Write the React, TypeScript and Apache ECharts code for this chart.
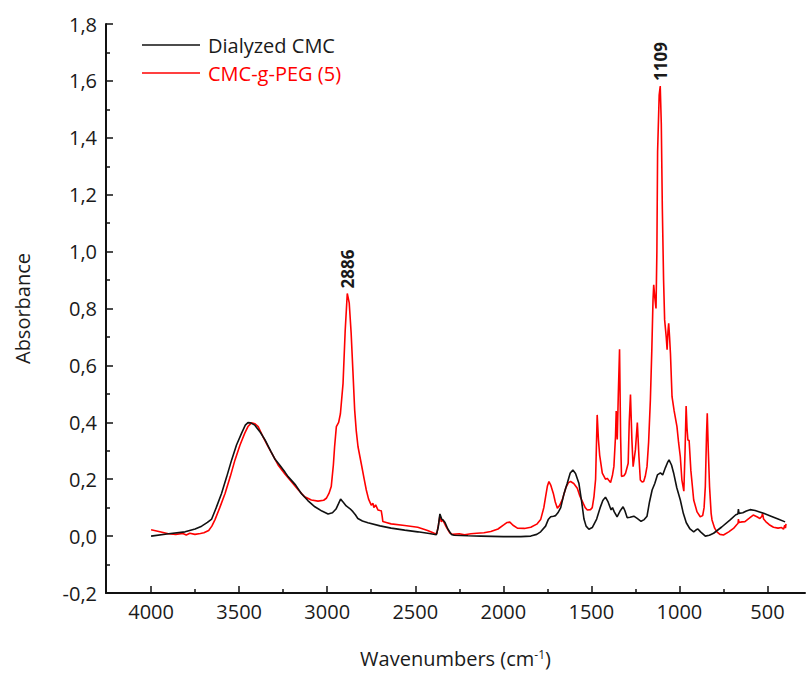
import React, { useEffect, useRef } from "react";
import * as echarts from "echarts";

// Dialyzed CMC spectrum [wavenumber, absorbance]
const dialyzedCMC: [number, number][] = [
  [4000, 0.0], [3900, 0.008], [3807, 0.015], [3750, 0.025], [3713, 0.035], [3680, 0.048],
  [3656, 0.06], [3630, 0.1], [3600, 0.15], [3570, 0.21], [3543, 0.267], [3515, 0.32],
  [3486, 0.362], [3465, 0.39], [3450, 0.399], [3435, 0.398], [3411, 0.39], [3380, 0.365],
  [3353, 0.338], [3320, 0.298], [3296, 0.27], [3270, 0.25], [3240, 0.225], [3222, 0.209],
  [3180, 0.18], [3147, 0.15], [3110, 0.125], [3070, 0.103], [3030, 0.088], [2995, 0.078],
  [2970, 0.082], [2950, 0.095], [2935, 0.115], [2924, 0.13], [2910, 0.12], [2892, 0.106],
  [2870, 0.096], [2854, 0.086], [2840, 0.075], [2826, 0.062], [2800, 0.053], [2769, 0.047],
  [2700, 0.036], [2637, 0.028], [2560, 0.021], [2486, 0.015], [2420, 0.009], [2380, 0.005],
  [2370, 0.03], [2360, 0.078], [2350, 0.06], [2340, 0.055], [2331, 0.048], [2315, 0.025],
  [2295, 0.006], [2279, 0.003], [2200, 0.001], [2127, 0.0], [2000, -0.002], [1900, -0.002],
  [1844, 0.0], [1810, 0.006], [1788, 0.015], [1760, 0.035], [1745, 0.058], [1731, 0.068],
  [1715, 0.07], [1703, 0.072], [1690, 0.082], [1674, 0.1], [1655, 0.15], [1637, 0.186],
  [1620, 0.222], [1605, 0.232], [1590, 0.22], [1571, 0.186], [1555, 0.12], [1542, 0.06],
  [1530, 0.035], [1514, 0.024], [1495, 0.03], [1470, 0.06], [1450, 0.1], [1435, 0.125],
  [1420, 0.137], [1405, 0.12], [1388, 0.092], [1380, 0.1], [1370, 0.085], [1354, 0.068],
  [1335, 0.09], [1320, 0.103], [1310, 0.09], [1297, 0.065], [1280, 0.066], [1259, 0.07],
  [1240, 0.062], [1218, 0.052], [1200, 0.058], [1184, 0.07], [1170, 0.12], [1155, 0.162],
  [1140, 0.185], [1125, 0.215], [1108, 0.222], [1095, 0.215], [1080, 0.24], [1068, 0.258],
  [1059, 0.268], [1045, 0.25], [1033, 0.222], [1015, 0.17], [995, 0.127], [978, 0.08],
  [961, 0.047], [940, 0.025], [919, 0.015], [905, 0.022], [895, 0.025], [880, 0.015],
  [853, 0.0], [830, 0.003], [806, 0.01], [760, 0.032], [712, 0.057], [680, 0.075],
  [668, 0.078], [665, 0.095], [662, 0.08], [640, 0.082], [620, 0.088], [599, 0.093],
  [570, 0.09], [545, 0.085], [522, 0.08], [480, 0.07], [440, 0.06], [400, 0.05],
];

// CMC-g-PEG (5) spectrum [wavenumber, absorbance]
const cmcGPeg: [number, number][] = [
  [4000, 0.022], [3950, 0.015], [3902, 0.008], [3860, 0.006], [3820, 0.009], [3800, 0.004],
  [3780, 0.01], [3751, 0.006], [3720, 0.009], [3700, 0.012], [3673, 0.02], [3655, 0.035],
  [3637, 0.058], [3610, 0.1], [3580, 0.15], [3550, 0.21], [3524, 0.267], [3495, 0.32],
  [3468, 0.362], [3450, 0.385], [3430, 0.398], [3410, 0.395], [3392, 0.385], [3365, 0.35],
  [3335, 0.314], [3305, 0.28], [3279, 0.25], [3240, 0.218], [3203, 0.191], [3165, 0.163],
  [3128, 0.138], [3090, 0.127], [3052, 0.123], [3020, 0.126], [3005, 0.133], [2990, 0.15],
  [2977, 0.174], [2965, 0.25], [2958, 0.314], [2948, 0.385], [2935, 0.4], [2925, 0.43],
  [2910, 0.537], [2898, 0.72], [2886, 0.853], [2875, 0.82], [2864, 0.713], [2854, 0.58],
  [2844, 0.443], [2835, 0.37], [2825, 0.314], [2807, 0.256], [2790, 0.2], [2778, 0.162],
  [2765, 0.13], [2750, 0.109], [2740, 0.115], [2735, 0.1], [2725, 0.11], [2712, 0.092],
  [2700, 0.09], [2693, 0.089], [2688, 0.07], [2684, 0.051], [2660, 0.047], [2637, 0.043],
  [2560, 0.037], [2486, 0.031], [2430, 0.02], [2392, 0.01], [2378, 0.008], [2368, 0.04],
  [2360, 0.072], [2352, 0.05], [2345, 0.058], [2338, 0.05], [2325, 0.033], [2305, 0.012],
  [2288, 0.006], [2250, 0.008], [2220, 0.005], [2184, 0.008], [2150, 0.01], [2110, 0.012],
  [2071, 0.016], [2030, 0.025], [1996, 0.04], [1978, 0.048], [1963, 0.049], [1945, 0.038],
  [1920, 0.028], [1880, 0.027], [1844, 0.031], [1810, 0.042], [1788, 0.058], [1770, 0.1],
  [1760, 0.138], [1750, 0.175], [1741, 0.192], [1730, 0.178], [1716, 0.15], [1705, 0.12],
  [1693, 0.098], [1680, 0.108], [1665, 0.128], [1645, 0.17], [1630, 0.188], [1618, 0.192],
  [1600, 0.185], [1580, 0.168], [1565, 0.14], [1550, 0.12], [1535, 0.1], [1523, 0.092],
  [1505, 0.093], [1495, 0.1], [1485, 0.14], [1476, 0.2], [1467, 0.426], [1460, 0.34],
  [1453, 0.285], [1438, 0.221], [1420, 0.2], [1410, 0.203], [1400, 0.195], [1391, 0.188],
  [1380, 0.215], [1372, 0.245], [1363, 0.35], [1359, 0.44], [1353, 0.34], [1347, 0.5],
  [1340, 0.657], [1334, 0.35], [1329, 0.21], [1315, 0.212], [1306, 0.221], [1291, 0.256],
  [1285, 0.4], [1278, 0.498], [1270, 0.34], [1263, 0.244], [1255, 0.28], [1250, 0.303],
  [1239, 0.399], [1230, 0.28], [1222, 0.197], [1212, 0.19], [1203, 0.192], [1194, 0.21],
  [1184, 0.245], [1175, 0.33], [1165, 0.478], [1157, 0.65], [1150, 0.83], [1146, 0.883],
  [1140, 0.84], [1133, 0.8], [1128, 1.0], [1124, 1.35], [1115, 1.55], [1109, 1.582],
  [1103, 1.45], [1097, 1.15], [1090, 0.9], [1084, 0.76], [1075, 0.7], [1070, 0.655],
  [1065, 0.72], [1061, 0.748], [1056, 0.7], [1051, 0.642], [1042, 0.49], [1030, 0.44],
  [1014, 0.385], [1005, 0.33], [995, 0.279], [986, 0.197], [975, 0.158], [968, 0.3],
  [962, 0.457], [957, 0.38], [952, 0.338], [945, 0.336], [935, 0.23], [919, 0.127],
  [900, 0.085], [882, 0.068], [868, 0.072], [860, 0.1], [853, 0.174], [846, 0.36],
  [842, 0.432], [836, 0.3], [829, 0.174], [820, 0.08], [815, 0.057], [800, 0.028],
  [787, 0.015], [770, 0.006], [750, 0.004], [720, 0.015], [693, 0.027], [675, 0.04],
  [667, 0.045], [665, 0.06], [662, 0.048], [645, 0.05], [628, 0.051], [605, 0.062],
  [581, 0.074], [560, 0.068], [543, 0.062], [532, 0.07], [528, 0.08], [522, 0.06],
  [510, 0.051], [490, 0.04], [466, 0.031], [440, 0.028], [420, 0.03], [409, 0.024],
  [402, 0.038], [398, 0.028], [395, 0.043],
];

const seriesNames = ["Dialyzed CMC", "CMC-g-PEG (5)"];
const xMajorTicks = [4000, 3500, 3000, 2500, 2000, 1500, 1000, 500];
const xMinorTicks = [3750, 3250, 2750, 2250, 1750, 1250, 750];
const peakLabels = [
  { wn: 2886, abs: 0.853, text: "2886" },
  { wn: 1109, abs: 1.582, text: "1109" },
];

const FONT = "'Open Sans', sans-serif";
const TXT = "#1a1a1a";

export default function App() {
  const ref = useRef<HTMLDivElement>(null);
  useEffect(() => {
    if (!ref.current) return;
    const chart = echarts.init(ref.current, undefined, { renderer: "svg" });
    chart.setOption({
      animation: false,
      backgroundColor: "#ffffff",
      textStyle: { fontFamily: FONT },
      grid: { left: 106, right: 1, top: 24, bottom: 80, outerBoundsMode: "none" },
      legend: {
        orient: "vertical",
        left: 137,
        top: 30,
        icon: "rect",
        itemWidth: 58,
        itemHeight: 1.6,
        itemGap: 8,
        textStyle: { fontFamily: FONT, fontSize: 20, padding: [0, 0, 0, 3] },
        data: [
          { name: seriesNames[0], textStyle: { color: TXT } },
          { name: seriesNames[1], textStyle: { color: "#ff0000" } },
        ],
      },
      xAxis: [
        {
          type: "value",
          inverse: true,
          min: 287,
          max: 4256,
          name: "Wavenumbers (cm{sup|-1})",
          nameLocation: "middle",
          nameGap: 55,
          nameTextStyle: {
            fontFamily: FONT,
            fontSize: 20,
            color: TXT,
            rich: {
              sup: { fontSize: 12, fontFamily: FONT, color: TXT, verticalAlign: "top", lineHeight: 14 },
            },
          },
          axisLine: { onZero: false, lineStyle: { color: "#111", width: 2 } },
          axisTick: { inside: true, length: 7, customValues: xMajorTicks, lineStyle: { color: "#111", width: 1.5 } },
          axisLabel: {
            customValues: xMajorTicks,
            fontSize: 20,
            color: TXT,
            margin: 8,
            fontFamily: FONT,
            formatter: (v: number) => String(Math.round(v)),
          },
          splitLine: { show: false },
        },
        {
          type: "value",
          inverse: true,
          min: 287,
          max: 4256,
          position: "bottom",
          axisLine: { show: false, onZero: false },
          axisTick: { inside: true, length: 4, customValues: xMinorTicks, lineStyle: { color: "#111", width: 1.5 } },
          axisLabel: { show: false },
          splitLine: { show: false },
        },
      ],
      yAxis: {
        type: "value",
        min: -0.2,
        max: 1.8,
        interval: 0.2,
        name: "Absorbance",
        nameLocation: "middle",
        nameGap: 74,
        nameTextStyle: { fontFamily: FONT, fontSize: 20, color: TXT },
        axisLine: { onZero: false, lineStyle: { color: "#111", width: 2 } },
        axisTick: { inside: true, length: 7, lineStyle: { color: "#111", width: 1.5 } },
        minorTick: { show: true, splitNumber: 2, length: 4, lineStyle: { color: "#111", width: 1.5 } },
        axisLabel: {
          fontSize: 20,
          color: TXT,
          margin: 9,
          fontFamily: FONT,
          formatter: (v: number) => (Math.abs(v) < 1e-9 ? "0,0" : v.toFixed(1).replace(".", ",")),
        },
        splitLine: { show: false },
      },
      series: [
        {
          name: seriesNames[0],
          type: "line",
          xAxisIndex: 0,
          data: dialyzedCMC,
          symbol: "none",
          lineStyle: { color: "#111111", width: 1.6 },
          itemStyle: { color: "#111111" },
          z: 3,
        },
        {
          name: seriesNames[1],
          type: "line",
          xAxisIndex: 0,
          data: cmcGPeg,
          symbol: "none",
          lineStyle: { color: "#ff0000", width: 1.6 },
          itemStyle: { color: "#ff0000" },
          z: 2,
        },
      ],
    });
    const graphics = peakLabels.map((p) => {
      const pt = chart.convertToPixel({ seriesIndex: 1 }, [p.wn, p.abs]) as number[];
      return {
        type: "text",
        x: pt[0],
        y: pt[1] - 5,
        rotation: Math.PI / 2,
        style: {
          text: p.text,
          fontFamily: FONT,
          fontSize: 17,
          fontWeight: "bold",
          fill: TXT,
          textAlign: "left",
          textVerticalAlign: "middle",
        },
      };
    });
    chart.setOption({ graphic: graphics });
    return () => chart.dispose();
  }, []);
  return (
    <div
      ref={ref}
      style={{ position: "fixed", left: 0, top: 0, width: 806, height: 673 }}
    />
  );
}
